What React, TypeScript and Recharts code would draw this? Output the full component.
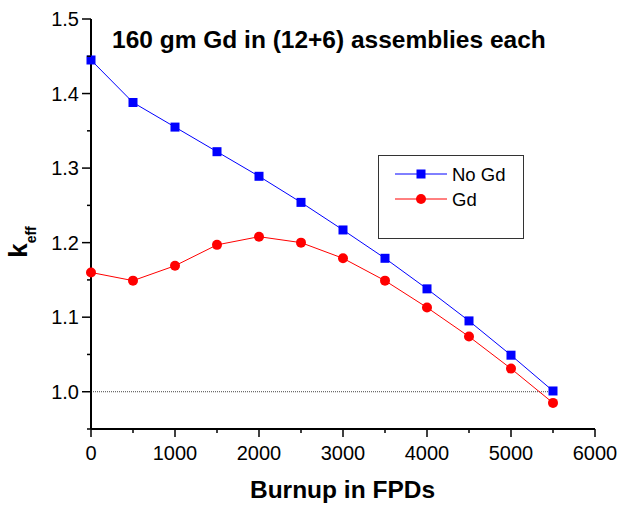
import {
  CartesianGrid,
  Customized,
  Legend,
  Line,
  LineChart,
  ReferenceLine,
  XAxis,
  YAxis,
} from "recharts";

const burnup = [0, 500, 1000, 1500, 2000, 2500, 3000, 3500, 4000, 4500, 5000, 5500];
const kNoGd = [1.445, 1.388, 1.355, 1.322, 1.289, 1.254, 1.217, 1.179, 1.138, 1.095, 1.049, 1.001];
const kGd = [1.16, 1.149, 1.169, 1.197, 1.208, 1.2, 1.179, 1.149, 1.113, 1.074, 1.031, 0.985];
const xTicks = [0, 500, 1000, 1500, 2000, 2500, 3000, 3500, 4000, 4500, 5000, 5500, 6000];
const yTicks = [0.95, 1.0, 1.05, 1.1, 1.15, 1.2, 1.25, 1.3, 1.35, 1.4, 1.45, 1.5];
const legendOrder = ["noGd", "gd"];

const FONT = "'Liberation Sans', Arial, sans-serif";
const BLUE = "#0000ff";
const RED = "#ff0000";

const data = burnup.map((b, i) => ({ burnup: b, noGd: kNoGd[i], gd: kGd[i] }));

function XTick({ x, y, payload }: any) {
  const v = payload.value as number;
  const major = v % 1000 === 0;
  return (
    <g>
      <line x1={x} x2={x} y1={y} y2={y + (major ? 8 : 4)} stroke="#000" strokeWidth={1.5} />
      {major && (
        <text x={x} y={y + 31} textAnchor="middle" fontSize={20} fontFamily={FONT} fill="#000">
          {v}
        </text>
      )}
    </g>
  );
}

function YTick({ x, y, payload }: any) {
  const v = payload.value as number;
  const major = Math.abs(v * 10 - Math.round(v * 10)) < 1e-6;
  return (
    <g>
      <line x1={x - (major ? 9 : 4)} x2={x} y1={y} y2={y} stroke="#000" strokeWidth={1.5} />
      {major && (
        <text x={x - 12} y={y + 7} textAnchor="end" fontSize={20} fontFamily={FONT} fill="#000">
          {v.toFixed(1)}
        </text>
      )}
    </g>
  );
}

function SquareDot({ cx, cy, index }: any) {
  return <rect key={`sq-${index}`} x={cx - 4.5} y={cy - 4.5} width={9} height={9} fill={BLUE} />;
}

function CircleDot({ cx, cy, index }: any) {
  return <circle key={`ci-${index}`} cx={cx} cy={cy} r={5} fill={RED} />;
}

function LegendBox({ payload }: any) {
  const items = [...((payload ?? []) as any[])].sort(
    (a, b) => legendOrder.indexOf(a.dataKey) - legendOrder.indexOf(b.dataKey)
  );
  return (
    <svg width={146} height={84} style={{ display: "block" }}>
      <rect x={0.5} y={0.5} width={145} height={83} fill="#fff" stroke="#333" strokeWidth={1} />
      {items.map((it, i) => {
        const cy = 19 + i * 25;
        const color = it.color;
        return (
          <g key={it.value}>
            <line x1={17} x2={69} y1={cy} y2={cy} stroke={color} strokeWidth={1} />
            {it.dataKey === "noGd" ? (
              <rect x={38.5} y={cy - 4.5} width={9} height={9} fill={color} />
            ) : (
              <circle cx={43} cy={cy} r={5} fill={color} />
            )}
            <text x={74} y={cy + 6.5} fontSize={18.5} fontFamily={FONT} fill="#000">
              {it.value}
            </text>
          </g>
        );
      })}
    </svg>
  );
}

function Annotations() {
  return (
    <g fontFamily={FONT} fill="#000">
      <text x={112} y={48} fontSize={24.5} fontWeight="bold">
        160 gm Gd in (12+6) assemblies each
      </text>
      <text x={342.5} y={498} fontSize={24.5} fontWeight="bold" textAnchor="middle">
        Burnup in FPDs
      </text>
      <text transform="translate(27,242) rotate(-90)" textAnchor="middle" fontWeight="bold">
        <tspan fontSize={26}>k</tspan>
        <tspan fontSize={14} dy={9}>eff</tspan>
      </text>
    </g>
  );
}

export default function App() {
  return (
    <div style={{ position: "absolute", left: 0, top: 0, background: "#fff" }}>
      <LineChart
        width={619}
        height={506}
        data={data}
        margin={{ top: 19, right: 24, left: 0, bottom: 0 }}
      >
        <CartesianGrid stroke="none" />
        <XAxis
          dataKey="burnup"
          type="number"
          domain={[0, 6000]}
          ticks={xTicks}
          interval={0}
          height={77}
          tickSize={0}
          tickMargin={0}
          tickLine={false}
          axisLine={{ stroke: "#000", strokeWidth: 2 }}
          tick={<XTick />}
        />
        <YAxis
          type="number"
          domain={[0.95, 1.5]}
          ticks={yTicks}
          interval={0}
          width={91}
          tickSize={0}
          tickMargin={0}
          tickLine={false}
          allowDataOverflow
          axisLine={{ stroke: "#000", strokeWidth: 2 }}
          tick={<YTick />}
        />
        <ReferenceLine
          segment={[
            { x: 0, y: 1.0 },
            { x: 5500, y: 1.0 },
          ]}
          stroke="#444"
          strokeWidth={1}
          strokeDasharray="1 1"
        />
        <Line
          dataKey="noGd"
          name="No Gd"
          stroke={BLUE}
          strokeWidth={1}
          dot={<SquareDot />}
          activeDot={false}
          isAnimationActive={false}
        />
        <Line
          dataKey="gd"
          name="Gd"
          stroke={RED}
          strokeWidth={1}
          dot={<CircleDot />}
          activeDot={false}
          isAnimationActive={false}
        />
        <Legend
          layout="horizontal"
          verticalAlign="middle"
          align="center"
          content={<LegendBox />}
          wrapperStyle={{ left: 378, top: 155, width: 146, height: 84 }}
        />
        <Customized component={<Annotations />} />
      </LineChart>
    </div>
  );
}
